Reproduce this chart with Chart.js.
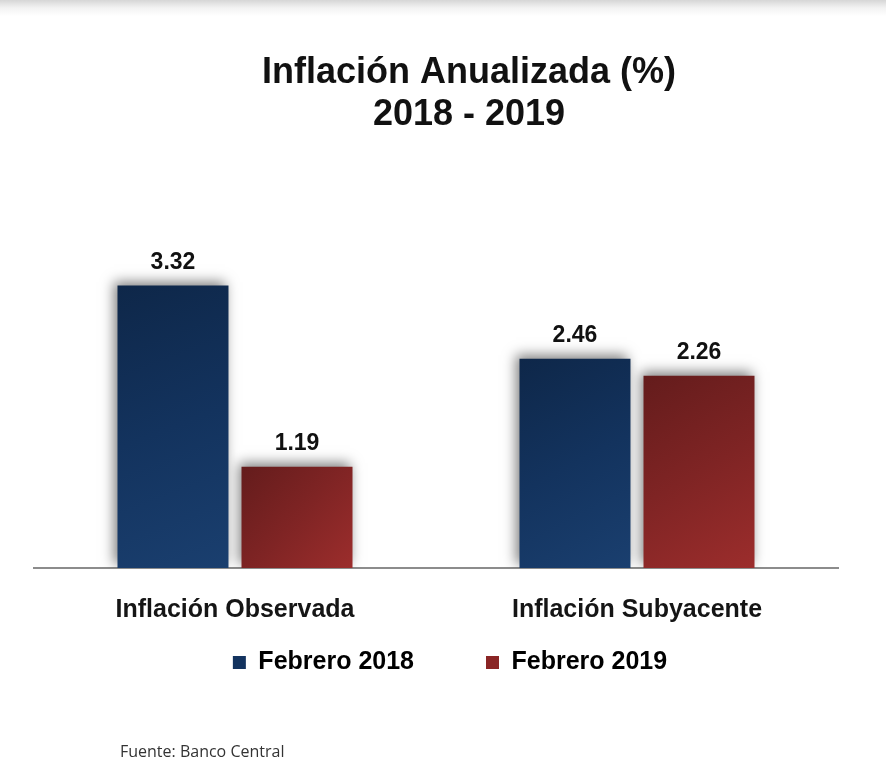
<!DOCTYPE html>
<html>
<head>
<meta charset="utf-8">
<script src="https://cdn.jsdelivr.net/npm/chart.js@4.4.1/dist/chart.umd.min.js"></script>
<style>
  html, body { margin: 0; padding: 0; }
  body {
    width: 886px; height: 764px; overflow: hidden; position: relative;
    background: linear-gradient(to bottom, #d6d6d6 0px, #f3f3f3 8px, #ffffff 16px);
  }
  #wrap { position: absolute; left: 0; top: 0; width: 886px; height: 764px; }
  #fuente {
    position: absolute; left: 120px; top: 741px;
    font-family: "Open Sans", sans-serif; font-size: 16px; line-height: 20px; color: #333;
  }
</style>
</head>
<body>
<div id="wrap"><canvas id="myChart"></canvas></div>
<div id="fuente">Fuente: Banco Central</div>
<script>
// datos
const categorias = ['Inflación Observada', 'Inflación Subyacente'];
const feb2018 = [3.32, 2.46];
const feb2019 = [1.19, 2.26];
const series = ['Febrero 2018', 'Febrero 2019'];

const FONT = "'Liberation Sans', Arial, sans-serif";
const CAT_PCT = 0.617;
const BAR_PCT = 0.895;

// colores degradados por barra (oscuro arriba-izq, claro abajo-der)
const stops = [
  ['#0e2749', '#13335e', '#1a3f6f'],
  ['#641c1c', '#7f2424', '#9c2d2c']
];
const solid = ['#13335f', '#8a2525'];

function barFill(ctx) {
  const chart = ctx.chart;
  const ds = ctx.datasetIndex;
  if (!chart.chartArea || ctx.type !== 'data') return solid[ds];
  const xs = chart.scales.x, ys = chart.scales.y;
  const c = xs.getPixelForValue(ctx.dataIndex);
  const slot = (xs.width / categorias.length) * CAT_PCT / 2;
  const cx = c + (ds - 0.5) * slot;
  const w = slot * BAR_PCT;
  const top = ys.getPixelForValue(ctx.raw);
  const base = ys.getPixelForValue(0);
  const g = chart.ctx.createLinearGradient(cx - w / 2, top, cx + w / 2, base);
  g.addColorStop(0, stops[ds][0]);
  g.addColorStop(0.5, stops[ds][1]);
  g.addColorStop(1, stops[ds][2]);
  return g;
}

// sombra suave y etiquetas de valor
const sombraEtiquetas = {
  id: 'sombraEtiquetas',
  afterLayout(chart) {
    // el titulo y la leyenda van algo a la derecha del eje, como en el original
    const t = chart.titleBlock;
    t.left += 33; t.right += 33;
    const l = chart.legend;
    l.left += 14; l.right += 14;
    l.top = chart.chartArea.bottom + 10;
    l.bottom = l.top + l.height;
  },
  beforeDatasetsDraw(chart) {
    const ctx = chart.ctx;
    ctx.save();
    ctx.shadowColor = 'rgba(0,0,0,0.5)';
    ctx.shadowBlur = 12;
    ctx.shadowOffsetX = -3;
    ctx.shadowOffsetY = -4;
  },
  afterDatasetsDraw(chart) {
    const ctx = chart.ctx;
    ctx.restore();
    ctx.save();
    ctx.font = 'bold 23px ' + FONT;
    ctx.fillStyle = '#111';
    ctx.textAlign = 'center';
    ctx.textBaseline = 'middle';
    chart.data.datasets.forEach((d, i) => {
      chart.getDatasetMeta(i).data.forEach((bar, j) => {
        ctx.fillText(d.data[j].toFixed(2), bar.x, bar.y - 23);
      });
    });
    ctx.restore();
  }
};

const ctx = document.getElementById('myChart').getContext('2d');
const myChart = new Chart(ctx, {
  type: 'bar',
  data: {
    labels: categorias,
    datasets: [
      { label: series[0], data: feb2018, backgroundColor: barFill },
      { label: series[1], data: feb2019, backgroundColor: barFill }
    ]
  },
  options: {
    responsive: true,
    maintainAspectRatio: false,
    animation: false,
    datasets: { bar: { categoryPercentage: CAT_PCT, barPercentage: BAR_PCT } },
    layout: { padding: { top: 0, left: 34, right: 48, bottom: 29 } },
    scales: {
      x: {
        grid: { display: false, drawTicks: false },
        border: { display: true, color: '#8c8c8c', width: 2 },
        ticks: { color: '#151515', font: { family: FONT, size: 25, weight: 'bold' }, padding: 27 },
        afterFit(scale) { scale.height = 60; }
      },
      y: { display: false, min: 0, max: 4.5 }
    },
    plugins: {
      tooltip: { enabled: false },
      title: {
        display: true,
        text: ['Inflación Anualizada (%)', '2018 - 2019'],
        color: '#111',
        font: { family: FONT, size: 36, weight: 'bold', lineHeight: 1.17 },
        padding: { top: 52, bottom: 49 }
      },
      legend: {
        position: 'bottom',
        labels: {
          color: '#111',
          font: { family: FONT, size: 25, weight: 'bold' },
          boxWidth: 13, boxHeight: 13, padding: 72,
          generateLabels(chart) {
            return chart.data.datasets.map((d, i) => ({
              text: d.label, fillStyle: solid[i], strokeStyle: solid[i],
              lineWidth: 0, datasetIndex: i, hidden: false
            }));
          }
        }
      }
    }
  },
  plugins: [sombraEtiquetas]
});
</script>
</body>
</html>
